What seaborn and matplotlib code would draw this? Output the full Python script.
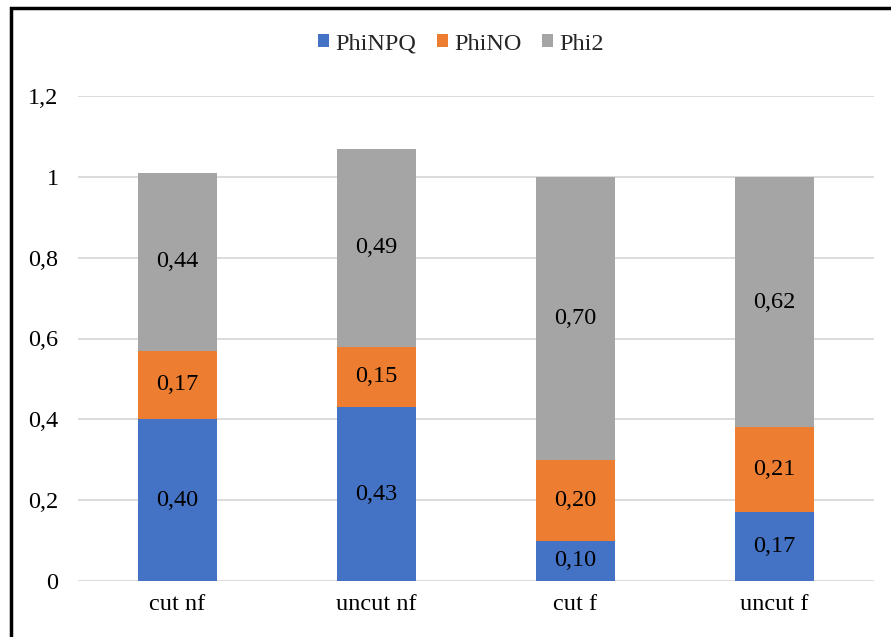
import matplotlib
matplotlib.use("Agg")
import matplotlib.pyplot as plt
from matplotlib.patches import Patch, Rectangle
import seaborn as sns
import numpy as np

categories = ["cut nf", "uncut nf", "cut f", "uncut f"]
phinpq = [0.40, 0.43, 0.10, 0.17]
phino = [0.17, 0.15, 0.20, 0.21]
phi2 = [0.44, 0.49, 0.70, 0.62]
series_names = ["PhiNPQ", "PhiNO", "Phi2"]
colors = ["#4472C4", "#ED7D31", "#A5A5A5"]
yticks = [0, 0.2, 0.4, 0.6, 0.8, 1.0, 1.2]
ytick_labels = ["0", "0,2", "0,4", "0,6", "0,8", "1", "1,2"]

sns.set_theme(style="white")
plt.rcParams["font.family"] = ["Liberation Serif", "DejaVu Serif"]
FS = 17.5

fig = plt.figure(figsize=(8.91, 6.37), dpi=100)
ax = fig.add_axes([78 / 891, 1 - 581 / 637, 796 / 891, (581 - 96) / 637])

bottom = np.zeros(len(categories))
for name, vals, col in zip(series_names, [phinpq, phino, phi2], colors):
    sns.barplot(x=categories, y=vals, bottom=bottom, color=col, width=0.4,
                ax=ax, zorder=3, linewidth=0, saturation=1)
    for i, v in enumerate(vals):
        ax.text(i, bottom[i] + v / 2, f"{v:.2f}".replace(".", ","),
                ha="center", va="center", fontsize=FS, color="black", zorder=4)
    bottom = bottom + np.array(vals)

ax.set_ylim(0, 1.2)
ax.set_xlim(-0.5, len(categories) - 0.5)
ax.set_yticks(yticks)
ax.set_yticklabels(ytick_labels)
ax.yaxis.grid(True, color="#D9D9D9", linewidth=1.3, zorder=0)
ax.xaxis.grid(False)
for s in ax.spines.values():
    s.set_visible(False)
ax.tick_params(axis="both", length=0, labelsize=FS, colors="black")
ax.tick_params(axis="y", pad=14)
ax.tick_params(axis="x", pad=9)
ax.set_xlabel("")
ax.set_ylabel("")

handles = [Patch(facecolor=c, edgecolor="none", label=n) for n, c in zip(series_names, colors)]
fig.legend(handles=handles, loc="center", bbox_to_anchor=(461 / 891, 1 - 44 / 637),
           ncol=3, frameon=False, fontsize=FS, handlelength=0.46, handleheight=0.46,
           handletextpad=0.25, columnspacing=0.85)

# frame around the figure
fig.patches.append(Rectangle((11 / 891, -0.1), 1.2, 1 - 8 / 637 + 0.1,
                             transform=fig.transFigure, fill=False,
                             edgecolor="black", linewidth=2.5, zorder=10))

fig.savefig("out.png", dpi=100)
